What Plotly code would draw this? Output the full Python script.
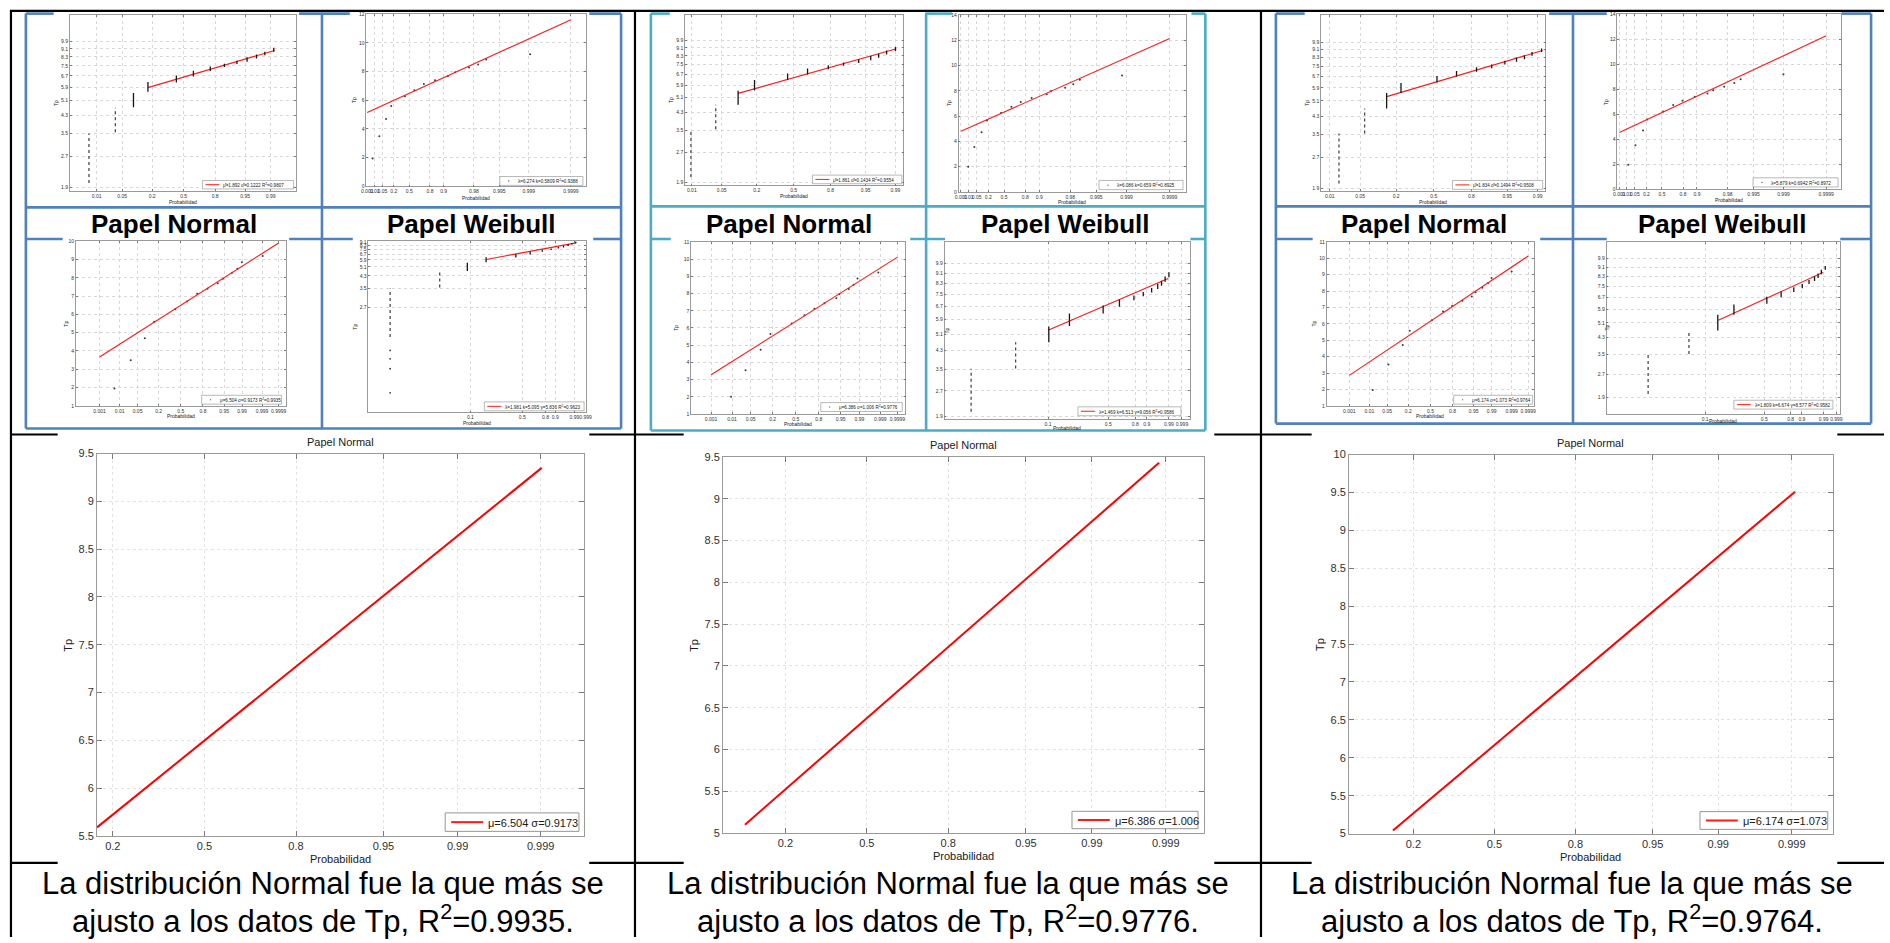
import math
from statistics import NormalDist
import plotly.graph_objects as go

W, H = 1890, 943
FONT = "Liberation Sans, Arial, Helvetica, sans-serif"
RED = "#ff1a1a"
_nd = NormalDist()

# ---------------- probability-paper transforms (axis scales) ----------------
def z_norm(p): return _nd.inv_cdf(p)
def z_gumb(p): return -math.log(-math.log(p))
def z_weib(p): return math.log(-math.log(1.0 - p))
def f_lnln(t): return math.log(math.log(t))
def f_ln2(t): return math.log(t + 2.0)
def f_id(t): return t

# ============================ DATA ============================
# unique Tp values with their plotting positions, one set per case (column)
P1  = [0.0058, 0.0284, 0.0854, 0.156, 0.416, 0.593, 0.733, 0.845, 0.920, 0.9454, 0.9741, 0.9842, 0.9898, 0.99907]
TP1 = [1.95, 3.50, 4.70, 5.60, 6.28, 6.70, 7.13, 7.40, 7.70, 7.95, 8.28, 8.50, 8.85, 9.20]
P2  = [0.0091, 0.0335, 0.100, 0.178, 0.442, 0.626, 0.753, 0.853, 0.9315, 0.945, 0.9739, 0.9829, 0.988, 0.99873]
TP2 = [2.00, 3.55, 4.73, 5.65, 6.26, 6.74, 7.12, 7.44, 7.73, 7.98, 8.26, 8.52, 8.88, 9.22]
P3  = [0.014, 0.055, 0.146, 0.215, 0.522, 0.684, 0.795, 0.888, 0.942, 0.957, 0.976, 0.986, 0.990, 0.9990]
TP3 = [1.97, 3.52, 4.71, 5.58, 6.22, 6.75, 7.09, 7.41, 7.67, 7.93, 8.20, 8.50, 8.80, 9.20]

# grouped (tied) observations: probability and Tp span of each group
SP1  = [0.0057, 0.034, 0.090, 0.170, 0.423, 0.603, 0.762, 0.862, 0.923, 0.955, 0.9743, 0.985, 0.992]
SLO1 = [2.00, 3.55, 4.70, 5.60, 6.22, 6.65, 7.09, 7.41, 7.66, 7.86, 8.16, 8.47, 8.79]
SHI1 = [3.50, 4.68, 5.53, 6.25, 6.73, 7.11, 7.44, 7.69, 7.95, 8.26, 8.54, 8.79, 9.20]
LOW1 = [1.80, 1.70, 1.60, 1.42]
SP2  = [0.0095, 0.0376, 0.1024, 0.186, 0.4455, 0.625, 0.786, 0.873, 0.9315, 0.961, 0.974, 0.9832, 0.990]
SLO2 = [2.03, 3.53, 4.70, 5.54, 6.26, 6.68, 7.10, 7.38, 7.64, 7.88, 8.12, 8.43, 8.77]
SHI2 = [3.52, 4.70, 5.52, 6.26, 6.76, 7.16, 7.43, 7.67, 7.96, 8.27, 8.50, 8.83, 9.18]
SP3  = [0.017, 0.061, 0.146, 0.232, 0.529, 0.695, 0.831, 0.9027, 0.9443, 0.968, 0.9788, 0.9861, 0.9921]
SLO3 = [2.01, 3.53, 4.68, 5.57, 6.27, 6.71, 7.09, 7.36, 7.69, 7.92, 8.16, 8.47, 8.86]
SHI3 = [3.53, 4.68, 5.57, 6.23, 6.75, 7.14, 7.44, 7.69, 8.01, 8.32, 8.54, 8.86, 9.20]

# fitted lines: (probabilities of the end points, Tp at the end points)
FIT = {
    "TL1": ([0.169, 0.9925], [5.87, 8.93]),  "TL2": ([0.1024, 0.9905], [5.36, 9.00]),
    "TL3": ([0.146, 0.9925], [5.35, 9.00]),
    "TR1": ([0.001, 0.9999], [5.15, 11.62]), "TR2": ([0.001, 0.9999], [4.81, 12.16]),
    "TR3": ([0.001, 0.9999], [4.54, 12.27]),
    "BL1": ([0.001, 0.9999], [3.67, 9.91]),  "BL2": ([0.001, 0.9999], [3.28, 10.12]),
    "BL3": ([0.001, 0.9999], [2.86, 10.14]),
    "BR1": ([0.171, 0.9926], [5.95, 8.86]),  "BR2": ([0.100, 0.9888], [5.32, 8.68]),
    "BR3": ([0.148, 0.9888], [5.25, 8.62]),
    "LP1": ([0.1618, 0.99903], [5.59, 9.35]), "LP2": ([0.104, 0.99874], [5.10, 9.43]),
    "LP3": ([0.146, 0.99911], [5.04, 9.51]),
}

LEG_TEXT = {
    "TL1": "μ̂=1.892 σ̂=0.1222 R<sup>2</sup>=0.9807", "TR1": "λ=6.274 k=0.5809 R<sup>2</sup>=0.9388",
    "BL1": "μ=6.504 σ=0.9173 R<sup>2</sup>=0.9935", "BR1": "λ=1.981 k=5.095 γ=5.836 R<sup>2</sup>=0.9623",
    "TL2": "μ̂=1.861 σ̂=0.1434 R<sup>2</sup>=0.9554", "TR2": "λ=6.086 k=0.659 R<sup>2</sup>=0.8925",
    "BL2": "μ=6.386 σ=1.006 R<sup>2</sup>=0.9776", "BR2": "λ=1.469 k=6.513 γ=9.056 R<sup>2</sup>=0.9586",
    "TL3": "μ̂=1.834 σ̂=0.1494 R<sup>2</sup>=0.9508", "TR3": "λ=5.879 k=0.6942 R<sup>2</sup>=0.8972",
    "BL3": "μ=6.174 σ=1.073 R<sup>2</sup>=0.9764", "BR3": "λ=1.809 k=6.674 γ=8.577 R<sup>2</sup>=0.9582",
    "LP1": "μ=6.504 σ=0.9173", "LP2": "μ=6.386 σ=1.006", "LP3": "μ=6.174 σ=1.073",
}
R2_TEXT = ["0.9935", "0.9776", "0.9764"]

# tick values
NT_TOP = [0.01, 0.05, 0.2, 0.5, 0.8, 0.95, 0.99]
NT_BOT = [0.001, 0.01, 0.05, 0.2, 0.5, 0.8, 0.95, 0.99, 0.999, 0.9999]
GT = [0.001, 0.01, 0.05, 0.2, 0.5, 0.8, 0.9, 0.98, 0.995, 0.999, 0.9999]
WT = [0.1, 0.5, 0.8, 0.9, 0.99, 0.999]
BT = [0.2, 0.5, 0.8, 0.95, 0.99, 0.999]
TP_TICKS = [1.9, 2.7, 3.5, 4.3, 5.1, 5.9, 6.7, 7.5, 8.3, 9.1, 9.9]
TP_TICKS_BR1 = [2.7, 3.5, 4.3, 5.1, 5.9, 6.7, 7.5, 8.3, 9.1]
Y_TR1 = [0, 2, 4, 6, 8, 10, 12]
Y_TR23 = [0, 2, 4, 6, 8, 10, 12, 14]
Y_BL1 = [1, 2, 3, 4, 5, 6, 7, 8, 9, 10]
Y_BL23 = [1, 2, 3, 4, 5, 6, 7, 8, 9, 10, 11]
Y_LP1 = [5.5, 6, 6.5, 7, 7.5, 8, 8.5, 9, 9.5]
Y_LP2 = [5, 5.5, 6, 6.5, 7, 7.5, 8, 8.5, 9, 9.5]
Y_LP3 = [5, 5.5, 6, 6.5, 7, 7.5, 8, 8.5, 9, 9.5, 10]

# ============================ GEOMETRY (pixels) ============================
BOX = {
    "TL1": (64.3, 292.1, 9.3, 187.7),   "TR1": (362.8, 583.4, 8.3, 182.7),
    "BL1": (70.3, 281.3, 238.3, 405.0), "BR1": (364.8, 583.4, 238.3, 411.7),
    "TL2": (683.4, 903.2, 9.3, 181.7),  "TR2": (958.7, 1187.3, 9.3, 188.3),
    "BL2": (689.5, 905.2, 239.0, 413.3), "BR2": (944.6, 1191.7, 239.0, 418.5),
    "TL3": (1323.5, 1549.3, 9.3, 187.7), "TR3": (1621.6, 1846.6, 8.3, 185.7),
    "BL3": (1329.1, 1538.0, 239.0, 405.0), "BR3": (1610.8, 1845.8, 239.0, 413.3),
    "LP1": (91.6, 581.8, 453.3, 840.7), "LP2": (721.6, 1205.8, 456.7, 837.7),
    "LP3": (1351.6, 1838.6, 454.3, 838.3),
}
LEG = {
    "TL1": (197.7, 289.3, 176.7, 185.3), "TR1": (497.0, 580.6, 172.7, 181.7),
    "BL1": (196.9, 277.2, 394.3, 403.3), "BR1": (481.4, 581.8, 401.0, 410.0),
    "TL2": (811.6, 901.6, 171.3, 180.0), "TR2": (1100.0, 1184.5, 176.7, 186.0),
    "BL2": (820.0, 902.0, 401.7, 410.7), "BR2": (1078.8, 1182.5, 406.0, 415.0),
    "TL3": (1455.7, 1546.5, 176.7, 185.7), "TR3": (1758.2, 1843.8, 174.0, 183.3),
    "BL3": (1456.9, 1536.4, 394.3, 403.3), "BR3": (1738.9, 1838.6, 399.3, 408.3),
    "LP1": (442.0, 576.6, 817.3, 836.0), "LP2": (1072.8, 1199.7, 815.7, 833.3),
    "LP3": (1704.8, 1833.4, 816.0, 834.0),
}
XLAB_Y = {"TL1": 199, "TR1": 194, "BL1": 415, "BR1": 422, "TL2": 192, "TR2": 199,
          "BL2": 423, "BR2": 427.5, "TL3": 199, "TR3": 197, "BL3": 415, "BR3": 420,
          "LP1": 864, "LP2": 860.7, "LP3": 861.7}
YLAB_X = {"TL1": 51, "TR1": 351, "BL1": 59.5, "BR1": 351, "TL2": 670, "TR2": 948.6,
          "BL2": 674, "BR2": 947, "TL3": 1310, "TR3": 1609.6, "BL3": 1316, "BR3": 1610.8,
          "LP1": 62.3, "LP2": 692.3, "LP3": 1322.3}
TITLE_Y = {"LP1": 441.7, "LP2": 445.0, "LP3": 442.7}

fig = go.Figure()
shapes, annots = [], []
_axn = [0]

def PX(x): return x / W
def PY(y): return 1 - y / H
def lbl(v): return f"{v:g}"

SMALL_FS = 5.0

def add_axes(box, xr, yr, xtv, xtt, ytv, ytt, ylog=False, fs=SMALL_FS, tl=2.0, lw=0.7, gw=0.5,
             gridcolor="#d9d9d9"):
    _axn[0] += 1
    n = _axn[0]
    k = "" if n == 1 else str(n)
    x0, x1, y0, y1 = box
    common = dict(showline=True, linecolor="#9a9a9a", linewidth=lw, mirror="ticks",
                  ticks="inside", ticklen=tl, tickwidth=lw, tickcolor="#7a7a7a",
                  showgrid=True, gridcolor=gridcolor, griddash="dot", gridwidth=gw,
                  zeroline=False, fixedrange=True, tickmode="array", tickangle=0,
                  tickfont=dict(family=FONT, size=fs, color="#303030"))
    xa = dict(common, domain=[PX(x0), PX(x1)], range=xr, tickvals=xtv, ticktext=xtt, anchor="y" + k)
    ya = dict(common, domain=[PY(y1), PY(y0)], range=yr, tickvals=ytv, ticktext=ytt, anchor="x" + k,
              type="log" if ylog else "linear")
    fig.update_layout(**{"xaxis" + k: xa, "yaxis" + k: ya})
    return ("x" + k, "y" + k)

def lines(ax, xs, ys, color, width, dash="solid"):
    fig.add_trace(go.Scatter(x=xs, y=ys, mode="lines", xaxis=ax[0], yaxis=ax[1],
                             line=dict(color=color, width=width, dash=dash),
                             hoverinfo="skip", showlegend=False))

def dots(ax, xs, ys, size=2.0, color="#3a3a3a"):
    fig.add_trace(go.Scatter(x=xs, y=ys, mode="markers", xaxis=ax[0], yaxis=ax[1],
                             marker=dict(color=color, size=size, line=dict(width=0)),
                             hoverinfo="skip", showlegend=False))

def stacks(ax, SP, SLO, SHI, zx, fy):
    xd, yd, xs, ys = [], [], [], []
    for i, (p, lo, hi) in enumerate(zip(SP, SLO, SHI)):
        tx, ty = (xd, yd) if i < 2 else (xs, ys)
        tx += [zx(p), zx(p), None]
        ty += [fy(lo), fy(hi), None]
    lines(ax, xd, yd, "#4a4a4a", 1.3, "dot")
    lines(ax, xs, ys, "#161616", 1.3)

def shp(**kw):
    d = dict(xref="paper", yref="paper", layer="below")
    d.update(kw)
    shapes.append(d)

def hl(x0, x1, y, color, w, layer="below"):
    shp(type="line", x0=PX(x0), x1=PX(x1), y0=PY(y), y1=PY(y), line=dict(color=color, width=w), layer=layer)

def vl(x, y0, y1, color, w, layer="below"):
    shp(type="line", x0=PX(x), x1=PX(x), y0=PY(y0), y1=PY(y1), line=dict(color=color, width=w), layer=layer)

def ann(x, y, text, size, color="#202020", xa="center", ya="middle", angle=0, bold=False):
    annots.append(dict(xref="paper", yref="paper", x=PX(x), y=PY(y), text=("<b>%s</b>" % text) if bold else text,
                       showarrow=False, xanchor=xa, yanchor=ya, textangle=angle,
                       font=dict(family=FONT, size=size, color=color)))

def legend(key, kind, big=False):
    l, r, t, b = LEG[key]
    shp(type="rect", x0=PX(l), x1=PX(r), y0=PY(b), y1=PY(t), fillcolor="white",
        line=dict(color="#8a8a8a", width=0.9 if big else 0.6), layer="above")
    ym = (t + b) / 2
    if big:
        hl(l + 6, l + 38, ym, RED, 2.0, "above")
        ann(l + 41, ym + 0.5, LEG_TEXT[key], 11, xa="left")
    elif kind == "line":
        hl(l + 3, l + 17, ym, RED, 1.0, "above")
        ann(l + 19, ym + 0.3, LEG_TEXT[key], 4.6, xa="left")
    else:
        shp(type="circle", x0=PX(l + 8.4), x1=PX(l + 9.6), y0=PY(ym + 0.6), y1=PY(ym - 0.6),
            fillcolor="#333", line=dict(width=0), layer="above")
        ann(l + 16, ym + 0.3, LEG_TEXT[key], 4.6, xa="left")

def labels(key, fs):
    x0, x1, y0, y1 = BOX[key]
    ann((x0 + x1) / 2, XLAB_Y[key], "Probabilidad", fs)
    ann(YLAB_X[key], (y0 + y1) / 2, "Tp", fs, angle=-90)

# ---------------- panels ----------------
def panel_TL(key, xr, yr, SP, SLO, SHI, low):
    ax = add_axes(BOX[key], xr, [math.log10(yr[0]), math.log10(yr[1])],
                  [z_norm(p) for p in NT_TOP], [lbl(p) for p in NT_TOP],
                  TP_TICKS, [lbl(t) for t in TP_TICKS], ylog=True)
    fp, ft = FIT[key]
    lines(ax, [z_norm(p) for p in fp], ft, RED, 1.1)
    stacks(ax, SP, SLO, SHI, z_norm, f_id)
    if low:
        dots(ax, [z_norm(SP[0])] * len(low), low, 1.8)
    legend(key, "line")
    labels(key, SMALL_FS)

def panel_TR(key, xr, yr, yt, P, TP):
    ax = add_axes(BOX[key], xr, yr, [z_gumb(p) for p in GT], [lbl(p) for p in GT],
                  yt, [lbl(v) for v in yt])
    dots(ax, [z_gumb(p) for p in P], TP, 2.0)
    fp, ft = FIT[key]
    lines(ax, [z_gumb(p) for p in fp], ft, RED, 1.1)
    legend(key, "dot")
    labels(key, SMALL_FS)

def panel_BL(key, xr, yr, yt, P, TP):
    ax = add_axes(BOX[key], xr, yr, [z_norm(p) for p in NT_BOT], [lbl(p) for p in NT_BOT],
                  yt, [lbl(v) for v in yt])
    dots(ax, [z_norm(p) for p in P], TP, 2.0)
    fp, ft = FIT[key]
    lines(ax, [z_norm(p) for p in fp], ft, RED, 1.1)
    legend(key, "dot")
    labels(key, SMALL_FS)

def panel_BR(key, xr, yr, fy, yt, SP, SLO, SHI, low):
    ax = add_axes(BOX[key], xr, yr, [z_weib(p) for p in WT], [lbl(p) for p in WT],
                  [fy(t) for t in yt], [lbl(t) for t in yt])
    fp, ft = FIT[key]
    lines(ax, [z_weib(p) for p in fp], [fy(t) for t in ft], RED, 1.1)
    stacks(ax, SP, SLO, SHI, z_weib, fy)
    if low:
        dots(ax, [z_weib(SP[0])] * len(low), [fy(t) for t in low], 1.8)
    legend(key, "line")
    labels(key, SMALL_FS)

def panel_big(key, xr, yr, yt):
    ax = add_axes(BOX[key], xr, yr, [z_norm(p) for p in BT], [lbl(p) for p in BT],
                  yt, [lbl(v) for v in yt], fs=11, tl=5, lw=1.0, gw=0.7, gridcolor="#e3e3e3")
    fp, ft = FIT[key]
    lines(ax, [z_norm(p) for p in fp], ft, "#ff0000", 2.0)
    legend(key, "line", big=True)
    x0, x1, y0, y1 = BOX[key]
    ann((x0 + x1) / 2, TITLE_Y[key], "Papel Normal", 11)
    labels(key, 11)

# column 1
panel_TL("TL1", [-3.04, 3.01], [1.82, 13.3], SP1, SLO1, SHI1, LOW1)
panel_TR("TR1", [-1.97, 10.02], [0, 12], Y_TR1, P1, TP1)
panel_BL("BL1", [-3.99, 3.98], [1, 10], Y_BL1, P1, TP1)
panel_BR("BR1", [-5.95, 1.937], [-1.288, 0.800], f_lnln, TP_TICKS_BR1, SP1, SLO1, SHI1, LOW1)
# column 2
panel_TL("TL2", [-2.48, 2.51], [1.84, 13.3], SP2, SLO2, SHI2, None)
panel_TR("TR2", [-2.06, 10.07], [0, 14], Y_TR23, P2, TP2)
panel_BL("BL2", [-3.82, 4.01], [1, 11], Y_BL23, P2, TP2)
panel_BR("BR2", [-5.48, 2.189], [1.340, 2.635], f_ln2, TP_TICKS, SP2, SLO2, SHI2, None)
# column 3
panel_TL("TL3", [-2.52, 2.50], [1.84, 13.4], SP3, SLO3, SHI3, None)
panel_TR("TR3", [-2.04, 10.0], [0, 14], Y_TR23, P3, TP3)
panel_BL("BL3", [-3.95, 3.95], [1, 11], Y_BL23, P3, TP3)
panel_BR("BR3", [-5.39, 2.05], [1.229, 2.608], f_ln2, TP_TICKS, SP3, SLO3, SHI3, None)
# large plots
panel_big("LP1", [-0.987, 3.489], [5.5, 9.5], Y_LP1)
panel_big("LP2", [-1.486, 3.487], [5.0, 9.5], Y_LP2)
panel_big("LP3", [-1.51, 3.518], [5.0, 10.0], Y_LP3)

# ---------------- table frame ----------------
def segs(a, b, gaps):
    out, cur = [], a
    for g0, g1 in gaps:
        if g0 > cur:
            out.append((cur, g0))
        cur = max(cur, g1)
    if cur < b:
        out.append((cur, b))
    return out

K = "#000000"
hl(4, 1890, 5, K, 2.2)
vl(5, 4, 943, K, 2.2)
vl(633, 4, 943, K, 2.2)
vl(1263, 4, 943, K, 2.2)
IMG_GAPS = [(52, 587), (682, 1216), (1314, 1843)]
for yy in (434, 868):
    for s0, s1 in segs(5, 1890, IMG_GAPS):
        hl(s0, s1, yy, K, 2.2)

BLUE, TEAL = "#4F81BD", "#4BACC6"
COLS = [
    dict(c=BLUE, l=20, r=619, t=7.7, b=428, m=318, y1=204, y2=236,
         top=[(48, 295), (346, 587)], mid=[(57, 285), (349, 591)]),
    dict(c=TEAL, l=649, r=1207, t=7.7, b=430, m=926, y1=203, y2=236,
         top=[(668, 925), (952, 1193)], mid=[(669, 910), (945, 1192)]),
    dict(c=BLUE, l=1278, r=1877, t=7.7, b=423, m=1577, y1=203, y2=236,
         top=[(1307, 1553), (1611, 1847)], mid=[(1315, 1544), (1611, 1846)]),
]
BW = 2.6
for c in COLS:
    for s0, s1 in segs(c["l"], c["r"], c["top"]):
        hl(s0, s1, c["t"], c["c"], BW)
    hl(c["l"], c["r"], c["b"], c["c"], BW)
    vl(c["l"], c["t"], c["b"], c["c"], BW)
    vl(c["r"], c["t"], c["b"], c["c"], BW)
    vl(c["m"], c["t"], c["b"], c["c"], BW)
    hl(c["l"], c["r"], c["y1"], c["c"], BW)
    for s0, s1 in segs(c["l"], c["r"], c["mid"]):
        hl(s0, s1, c["y2"], c["c"], BW)
    ann((c["l"] + c["m"]) / 2, 221, "Papel Normal", 26, color="#000", bold=True)
    ann((c["m"] + c["r"]) / 2, 221, "Papel Weibull", 26, color="#000", bold=True)

# ---------------- conclusions ----------------
for cx, r2 in zip([319.5, 948.0, 1576.5], R2_TEXT):
    ann(cx, 889, "La distribución Normal fue la que más se", 31, color="#000")
    ann(cx, 925, "ajusto a los datos de Tp, R<sup>2</sup>=%s." % r2, 31, color="#000")

fig.update_layout(width=W, height=H, margin=dict(l=0, r=0, t=0, b=0),
                  paper_bgcolor="white", plot_bgcolor="rgba(0,0,0,0)",
                  showlegend=False, shapes=shapes, annotations=annots,
                  font=dict(family=FONT))
fig.write_html("out.html")
